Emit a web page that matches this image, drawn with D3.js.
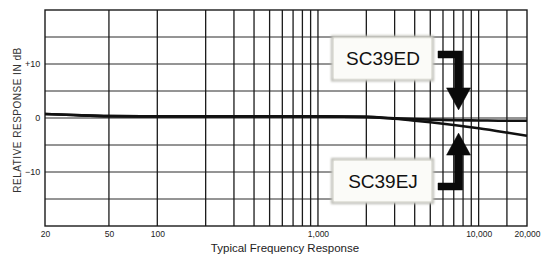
<!DOCTYPE html>
<html><head><meta charset="utf-8">
<script src="https://cdn.jsdelivr.net/npm/d3@7"></script>
<style>
html,body{margin:0;padding:0;background:#fff;}
svg{display:block;font-family:"Liberation Sans",Arial,sans-serif;}
</style></head>
<body>
<svg id="c" width="544" height="257"></svg>
<script>
// ---- data ----
const freqs   = [20, 30, 50, 100, 200, 500, 1000, 2000, 3000, 4000, 5000, 7000, 10000, 15000, 20000];
const sc39ed  = [0.75, 0.55, 0.35, 0.3, 0.3, 0.3, 0.3, 0.2, -0.05, -0.2, -0.3, -0.4, -0.45, -0.5, -0.5];
const sc39ej  = [0.75, 0.55, 0.35, 0.3, 0.3, 0.3, 0.3, 0.2, -0.15, -0.5, -0.8, -1.3, -1.9, -2.7, -3.3];
const seriesNames = ["SC39ED", "SC39EJ"];
const xTickValues = [20, 50, 100, 1000, 10000, 20000];
const xTickLabels = ["20", "50", "100", "1,000", "10,000", "20,000"];
const yTickValues = [10, 0, -10];
const yTickLabels = ["+10", "0", "\u221210"];
const xGrid = [50,100,200,300,400,500,600,700,800,900,1000,2000,3000,4000,5000,6000,7000,8000,9000,10000,15000];
const yGrid = [-15,-10,-5,0,5,10,15];
const arrowTips = [{f:7500, db:1.5, dir:1}, {f:7500, db:-2.8, dir:-1}];

const svg = d3.select("#c");
const x = d3.scaleLog().domain([20,20000]).range([45,527]);
const y = d3.scaleLinear().domain([-20,20]).range([226,10]);

// grid
const g = svg.append("g");
g.selectAll("line.h").data(yGrid).join("line")
  .attr("x1",x(20)).attr("x2",x(20000))
  .attr("y1",d=>y(d)).attr("y2",d=>y(d))
  .attr("stroke","#2a2a2a").attr("stroke-width",1);
g.selectAll("line.v").data(xGrid).join("line")
  .attr("x1",d=>x(d)).attr("x2",d=>x(d))
  .attr("y1",y(20)).attr("y2",y(-20))
  .attr("stroke","#1a1a1a").attr("stroke-width",1.3);
g.append("rect").attr("x",x(20)).attr("y",y(20))
  .attr("width",x(20000)-x(20)).attr("height",y(-20)-y(20))
  .attr("fill","none").attr("stroke","#1a1a1a").attr("stroke-width",1.4);

// curves
const line = d3.line().x(d=>x(d[0])).y(d=>y(d[1])).curve(d3.curveMonotoneX);
[sc39ed, sc39ej].forEach(vals=>{
  svg.append("path").datum(freqs.map((f,i)=>[f,vals[i]]))
    .attr("d",line).attr("fill","none").attr("stroke","#111").attr("stroke-width",2.6);
});

// axes labels
const xa = d3.axisBottom(x).tickValues(xTickValues).tickSize(0)
  .tickFormat((d,i)=>xTickLabels[i]);
const xg = svg.append("g").attr("transform",`translate(0,${y(-20)})`).call(xa);
xg.select(".domain").remove();
xg.selectAll("text").attr("dy","0.9em").attr("font-size","8.5px").attr("fill","#222")
  .attr("font-family","Liberation Sans,Arial,sans-serif");

const ya = d3.axisLeft(y).tickValues(yTickValues).tickSize(0)
  .tickFormat((d,i)=>yTickLabels[i]);
const yg = svg.append("g").attr("transform",`translate(${x(20)},0)`).call(ya);
yg.select(".domain").remove();
yg.selectAll("text").attr("dx","-0.2em").attr("font-size","9px").attr("fill","#222")
  .attr("font-family","Liberation Sans,Arial,sans-serif");

svg.append("text").attr("transform",`translate(21,${(y(20)+y(-20))/2+2}) rotate(-90)`)
  .attr("text-anchor","middle").attr("font-size","10px").attr("fill","#333")
  .attr("letter-spacing","0.5px").text("RELATIVE RESPONSE IN dB");
svg.append("text").attr("x",285).attr("y",252).attr("text-anchor","middle")
  .attr("font-size","11.5px").attr("fill","#222").text("Typical Frequency Response");

// label boxes
const defs = svg.append("defs");
defs.append("filter").attr("id","bl").append("feGaussianBlur").attr("stdDeviation",0.8);
const boxes = [{name:seriesNames[0], yTop:y(15.1)}, {name:seriesNames[1], yTop:y(-7.6)}];
boxes.forEach(b=>{
  svg.append("rect").attr("x",332).attr("y",b.yTop).attr("width",101).attr("height",44)
    .attr("fill","#f4f4ee").attr("stroke","#b8b8b0").attr("stroke-width",2).attr("filter","url(#bl)");
  svg.append("rect").attr("x",334).attr("y",b.yTop+2).attr("width",97).attr("height",40)
    .attr("fill","#fbfbf8");
  svg.append("text").attr("x",383).attr("y",b.yTop+29).attr("text-anchor","middle")
    .attr("font-size","19px").attr("fill","#111").text(b.name);
});

// arrows
arrowTips.forEach(a=>{
  const tx = x(a.f), ty = y(a.db), d = a.dir;
  const headLen = 22, headW = 12, shaft = 4;
  const baseY = ty - d*headLen;
  const barY = d===1 ? 55 : 186;
  const p = [
    [tx-headW, baseY], [tx, ty], [tx+headW, baseY],
    [tx+shaft, baseY], [tx+shaft, barY - d*4], [438, barY - d*4],
    [438, barY + d*3], [tx-shaft, barY + d*3], [tx-shaft, baseY]
  ];
  svg.append("path").attr("d","M"+p.map(q=>q.join(",")).join("L")+"Z")
    .attr("fill","#0a0a0a").attr("stroke","#0a0a0a").attr("stroke-width",0.5);
});
</script>
</body></html>
